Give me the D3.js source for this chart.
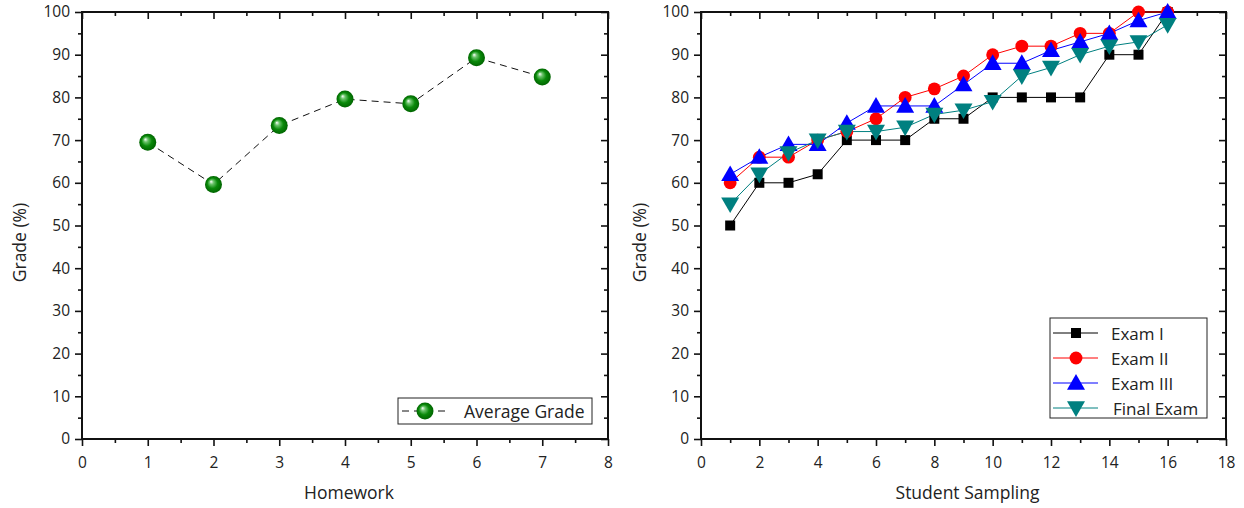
<!DOCTYPE html>
<meta charset="utf-8">
<script src="https://cdn.jsdelivr.net/npm/d3@7"></script>
<style>
  body { margin: 0; background: #fff; }
  svg text { font-family: "Open Sans", "Noto Sans", sans-serif; fill: #222; }
</style>
<div id="chart"></div>
<script>
// left panel
var homework = [1, 2, 3, 4, 5, 6, 7];
var avgGrade = [69.5, 59.6, 73.4, 79.6, 78.5, 89.3, 84.8];

// right panel
var students = d3.range(1, 17);
var examI = [50, 60, 60, 62, 70, 70, 70, 75, 75, 80, 80, 80, 80, 90, 90, 100];
var examII = [60, 66, 66, 70, 72, 75, 80, 82, 85, 90, 92, 92, 95, 95, 100, 100];
var examIII = [62, 66, 69, 69, 74, 78, 78, 78, 83, 88, 88, 91, 93, 95, 98, 100];
var finalExam = [55, 62, 67, 70, 72, 72, 73, 76, 77, 79, 85, 87, 90, 92, 93, 97];

var seriesNames = ["Exam I", "Exam II", "Exam III", "Final Exam"];
var seriesColors = ["#000000", "#ff0000", "#0000ff", "#008080"];
var seriesShapes = [d3.symbolSquare, d3.symbolCircle, d3.symbolTriangle, "down"];

var width = 1244, height = 508;
var svg = d3.select("#chart").append("svg").attr("width", width).attr("height", height);

var defs = svg.append("defs");
var grad = defs.append("radialGradient").attr("id", "ball")
  .attr("cx", "50%").attr("cy", "50%").attr("r", "50%")
  .attr("fx", "35%").attr("fy", "32%");
grad.append("stop").attr("offset", "0%").attr("stop-color", "#ffffff");
grad.append("stop").attr("offset", "25%").attr("stop-color", "#6cc46c");
grad.append("stop").attr("offset", "60%").attr("stop-color", "#0a8a0a");
grad.append("stop").attr("offset", "100%").attr("stop-color", "#006400");

function frame(x, y, xMax, xStep, xLabel, yLabel, labelX) {
  var g = svg.append("g");
  var x0 = x.range()[0], x1 = x.range()[1], y0 = y.range()[0], y1 = y.range()[1];
  var xMajor = d3.range(0, xMax + 0.001, xStep);
  var xMinor = d3.range(xStep / 2, xMax, xStep);
  var yMajor = d3.range(0, 101, 10);
  var yMinor = d3.range(5, 100, 10);

  // bottom axis: outward ticks
  g.append("g").attr("transform", `translate(0,${y0})`)
    .call(d3.axisBottom(x).tickValues(xMajor).tickSize(7).tickSizeOuter(0).tickPadding(11))
    .call(a => a.selectAll("text").style("font-size", "15.5px"));
  g.append("g").attr("transform", `translate(0,${y0})`)
    .call(d3.axisBottom(x).tickValues(xMinor).tickSize(4).tickFormat("").tickSizeOuter(0));
  // top axis: inward ticks
  g.append("g").attr("transform", `translate(0,${y1})`)
    .call(d3.axisBottom(x).tickValues(xMajor).tickSize(7).tickFormat("").tickSizeOuter(0));
  g.append("g").attr("transform", `translate(0,${y1})`)
    .call(d3.axisBottom(x).tickValues(xMinor).tickSize(4).tickFormat("").tickSizeOuter(0));
  // left axis: outward ticks
  g.append("g").attr("transform", `translate(${x0},0)`)
    .call(d3.axisLeft(y).tickValues(yMajor).tickSize(7).tickSizeOuter(0).tickPadding(5))
    .call(a => a.selectAll("text").style("font-size", "15.5px"));
  g.append("g").attr("transform", `translate(${x0},0)`)
    .call(d3.axisLeft(y).tickValues(yMinor).tickSize(4).tickFormat("").tickSizeOuter(0));
  // right axis: inward ticks
  g.append("g").attr("transform", `translate(${x1},0)`)
    .call(d3.axisLeft(y).tickValues(yMajor).tickSize(7).tickFormat("").tickSizeOuter(0));
  g.append("g").attr("transform", `translate(${x1},0)`)
    .call(d3.axisLeft(y).tickValues(yMinor).tickSize(4).tickFormat("").tickSizeOuter(0));

  g.selectAll(".domain").remove();
  g.selectAll(".tick line").attr("stroke", "#111").attr("stroke-width", 1.6);

  g.append("rect").attr("x", x0).attr("y", y1).attr("width", x1 - x0).attr("height", y0 - y1)
    .attr("fill", "none").attr("stroke", "#111").attr("stroke-width", 2);

  g.append("text").attr("x", (x0 + x1) / 2 + 4).attr("y", 499).attr("text-anchor", "middle")
    .style("font-size", "17.5px").text(xLabel);
  g.append("text").attr("transform", `translate(${labelX},${(y0 + y1) / 2 + 17}) rotate(-90)`)
    .attr("text-anchor", "middle").style("font-size", "17.5px").text(yLabel);
}

function shape(kind, size) {
  if (kind === "down") return d3.symbol(d3.symbolTriangle, size)();
  return d3.symbol(kind, size)();
}

// ---------- left chart ----------
var xL = d3.scaleLinear().domain([0, 8]).range([82, 608]);
var yL = d3.scaleLinear().domain([0, 100]).range([439, 12]);
frame(xL, yL, 8, 1, "Homework", "Grade (%)", 26);

var line = d3.line().x(d => xL(d[0])).y(d => yL(d[1]));
var hwData = homework.map((h, i) => [h, avgGrade[i]]);
svg.append("path").datum(hwData).attr("d", line)
  .attr("fill", "none").attr("stroke", "#111").attr("stroke-width", 1)
  .attr("stroke-dasharray", "7,5");
svg.append("g").selectAll("circle").data(hwData).join("circle")
  .attr("cx", d => xL(d[0])).attr("cy", d => yL(d[1])).attr("r", 8.5)
  .attr("fill", "url(#ball)");

// left legend
var legL = svg.append("g").attr("transform", "translate(398,398)");
legL.append("rect").attr("width", 194).attr("height", 26)
  .attr("fill", "#fff").attr("stroke", "#222").attr("stroke-width", 1);
legL.append("line").attr("x1", 4).attr("x2", 50).attr("y1", 13).attr("y2", 13)
  .attr("stroke", "#111").attr("stroke-dasharray", "7,5");
legL.append("circle").attr("cx", 27).attr("cy", 13).attr("r", 8.5).attr("fill", "url(#ball)");
legL.append("text").attr("x", 66).attr("y", 19.5).style("font-size", "17.5px").text("Average Grade");

// ---------- right chart ----------
var xR = d3.scaleLinear().domain([0, 18]).range([701, 1226]);
var yR = d3.scaleLinear().domain([0, 100]).range([439, 12]);
frame(xR, yR, 18, 2, "Student Sampling", "Grade (%)", 646);

var allSeries = [examI, examII, examIII, finalExam];
var lineR = d3.line().x((d, i) => xR(students[i])).y(d => yR(d));
var sizes = [100, 130, 140, 140];

allSeries.forEach((vals, k) => {
  svg.append("path").datum(vals).attr("d", lineR)
    .attr("fill", "none").attr("stroke", seriesColors[k]).attr("stroke-width", 1);
});
allSeries.forEach((vals, k) => {
  svg.append("g").selectAll("path").data(vals).join("path")
    .attr("d", shape(seriesShapes[k], sizes[k]))
    .attr("transform", (d, i) => `translate(${xR(students[i])},${yR(d) + (k === 2 ? 1.5 : k === 3 ? -1.5 : 0)})` + (k === 3 ? " rotate(180)" : ""))
    .attr("fill", seriesColors[k]);
});

// right legend
var legR = svg.append("g").attr("transform", "translate(1050,318)");
legR.append("rect").attr("width", 157).attr("height", 100)
  .attr("fill", "#fff").attr("stroke", "#222").attr("stroke-width", 1);
seriesNames.forEach((name, k) => {
  var yy = 15 + k * 25;
  legR.append("line").attr("x1", 3).attr("x2", 48).attr("y1", yy).attr("y2", yy)
    .attr("stroke", seriesColors[k]).attr("stroke-width", 1);
  legR.append("path").attr("d", shape(seriesShapes[k], sizes[k]))
    .attr("transform", `translate(26,${yy + (k === 2 ? 1.5 : k === 3 ? -1.5 : 0)})` + (k === 3 ? " rotate(180)" : ""))
    .attr("fill", seriesColors[k]);
  legR.append("text").attr("x", k === 3 ? 63 : 61).attr("y", yy + 6.5)
    .style("font-size", "17px").text(name);
});
</script>
